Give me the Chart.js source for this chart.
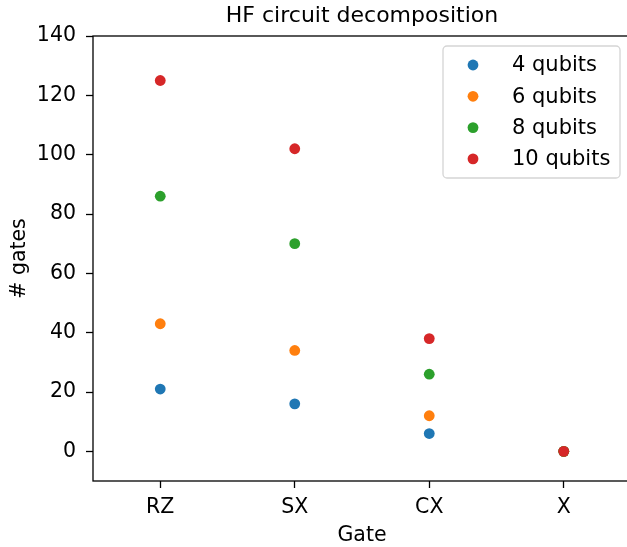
<!DOCTYPE html>
<html>
<head>
<meta charset="utf-8">
<script src="https://cdn.jsdelivr.net/npm/chart.js@4.4.0/dist/chart.umd.min.js"></script>
<style>
  html, body { margin: 0; padding: 0; overflow: hidden; background: #fff; }
  #wrap { width: 640px; height: 547px; }
</style>
</head>
<body>
<div id="wrap"><canvas id="gates-chart"></canvas></div>
<script>
    const gates = ["RZ", "SX", "CX", "X"];
    const yTicks = [0, 20, 40, 60, 80, 100, 120, 140];
    const seriesNames = ["4 qubits", "6 qubits", "8 qubits", "10 qubits"];
    const qubits4 = [21, 16, 6, 0];
    const qubits6 = [43, 34, 12, 0];
    const qubits8 = [86, 70, 26, 0];
    const qubits10 = [125, 102, 38, 0];
    const colors = ["#1f77b4", "#ff7f0e", "#2ca02c", "#d62728"];
    const chartTitle = 'HF circuit decomposition';

    const font = "'DejaVu Sans', sans-serif";
    const tickSize = 20.5;

    // box round the plot, title over the axes, legend in the upper right (matplotlib style)
    const framePlugin = {
        id: 'frame',
        afterDraw(chart) {
            const {ctx, chartArea: a} = chart;
            ctx.save();
            ctx.strokeStyle = '#000';
            ctx.lineWidth = 1.3;
            ctx.strokeRect(a.left, a.top, a.right - a.left, a.bottom - a.top);

            ctx.fillStyle = '#000';
            ctx.font = "22px " + font;
            ctx.textAlign = 'center';
            ctx.textBaseline = 'middle';
            ctx.fillText(chartTitle, (a.left + a.right) / 2, a.top - 20);

            const w = 177, h = 132;
            const x = a.right - 11 - w, y = a.top + 10;
            ctx.beginPath();
            ctx.roundRect(x, y, w, h, 4);
            ctx.fillStyle = 'rgba(255,255,255,0.8)';
            ctx.fill();
            ctx.strokeStyle = '#d5d5d5';
            ctx.lineWidth = 1.3;
            ctx.stroke();

            ctx.font = "21px " + font;
            ctx.textBaseline = 'middle';
            ctx.textAlign = 'left';
            chart.data.datasets.forEach((ds, i) => {
                const cy = y + 19 + i * 31.3;
                ctx.beginPath();
                ctx.arc(x + 30, cy, 5.4, 0, Math.PI * 2);
                ctx.fillStyle = ds.backgroundColor;
                ctx.fill();
                ctx.fillStyle = '#000';
                ctx.fillText(ds.label, x + 69, cy + 1);
            });
            ctx.restore();
        }
    };

    const series = [qubits4, qubits6, qubits8, qubits10];

    new Chart(document.getElementById("gates-chart"), {
        type: 'line',
        data: {
            labels: gates,
            datasets: series.map((vals, i) => ({
                label: seriesNames[i],
                data: vals,
                order: series.length - i,
                showLine: false,
                backgroundColor: colors[i],
                borderColor: colors[i],
                pointRadius: 5.4,
                pointBorderWidth: 0,
                pointHoverRadius: 5.4
            }))
        },
        options: {
            responsive: true,
            maintainAspectRatio: false,
            animation: false,
            events: [],
            layout: {
                padding: {left: 0, right: 9, top: 36, bottom: 0}
            },
            plugins: {
                legend: { display: false },
                tooltip: { enabled: false },
                title: { display: false }
            },
            scales: {
                x: {
                    type: 'category',
                    offset: true,
                    afterFit: s => { s.height = 66; },
                    grid: {
                        display: true,
                        drawOnChartArea: false,
                        drawTicks: true,
                        tickLength: 7,
                        tickColor: '#000',
                        tickWidth: 1.3
                    },
                    border: { display: false },
                    ticks: {
                        color: '#000',
                        padding: 7,
                        font: { family: font, size: tickSize }
                    },
                    title: {
                        display: true,
                        text: 'Gate',
                        color: '#000',
                        font: { family: font, size: tickSize, lineHeight: 1.1 },
                        padding: { top: 0, bottom: 0 }
                    }
                },
                y: {
                    min: -10,
                    max: 140,
                    afterFit: s => { s.width = 93; },
                    afterBuildTicks: s => { s.ticks = yTicks.map(v => ({value: v})); },
                    grid: {
                        display: true,
                        drawOnChartArea: false,
                        drawTicks: true,
                        tickLength: 7,
                        tickColor: '#000',
                        tickWidth: 1.3
                    },
                    border: { display: false },
                    ticks: {
                        color: '#000',
                        padding: 10,
                        font: { family: font, size: tickSize }
                    },
                    title: {
                        display: true,
                        text: '# gates',
                        color: '#000',
                        font: { family: font, size: tickSize, lineHeight: 1.2 },
                        padding: { top: 7, bottom: 0 }
                    }
                }
            }
        },
        plugins: [framePlugin]
    });
</script>
</body>
</html>
